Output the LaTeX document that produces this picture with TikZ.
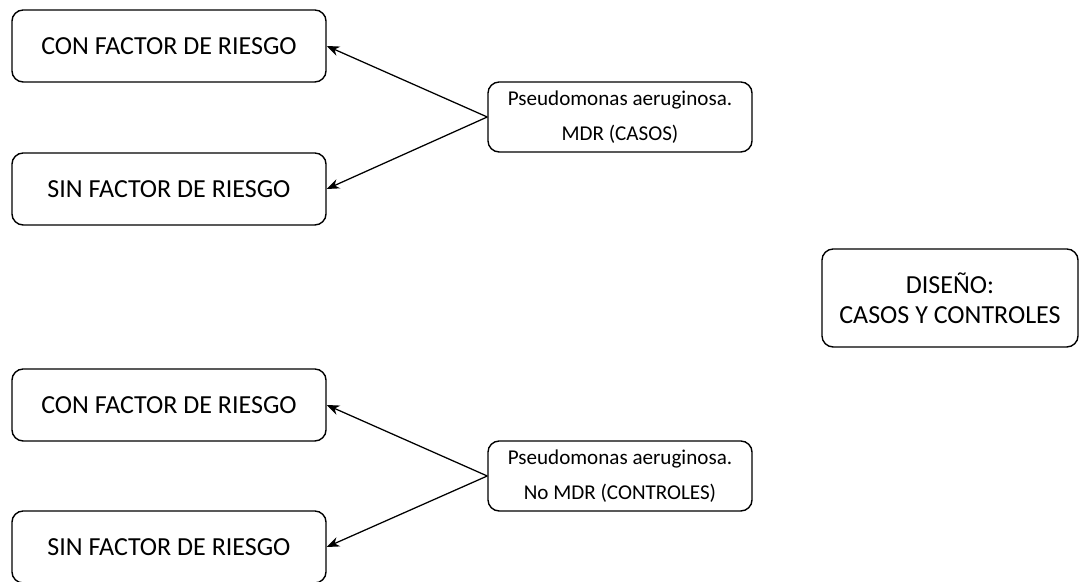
\documentclass[tikz,border=0pt]{standalone}
\usepackage{fontspec}
\setmainfont{Carlito}
\usetikzlibrary{arrows.meta,positioning}

\begin{document}
\begin{tikzpicture}[x=0.025cm, y=-0.025cm,
  every node/.style={font=\fontsize{18.5}{21}\selectfont},
  factor/.style={rectangle, rounded corners=8pt, draw=black, line width=1pt, minimum width=7.85cm, minimum height=1.8cm, align=center},
  grupo/.style={rectangle, rounded corners=8pt, draw=black, line width=1pt, minimum width=6.6cm, minimum height=1.75cm, align=center, font=\fontsize{15}{24.5}\selectfont},
  diseno/.style={rectangle, rounded corners=8pt, draw=black, line width=1pt, minimum width=6.4cm, minimum height=2.45cm, align=center},
  arrow/.style={-{Stealth[length=9pt, width=7pt]}, line width=0.9pt},
]
\useasboundingbox (0,0) rectangle (1081,582);

% Casos
\node[grupo] (casos) at (620,117) {Pseudomonas aeruginosa.\\MDR (CASOS)};
\node[factor] (conA) at (169,46) {CON FACTOR DE RIESGO};
\node[factor] (sinA) at (169,189) {SIN FACTOR DE RIESGO};

% Controles
\node[grupo] (controles) at (620,476) {Pseudomonas aeruginosa.\\No MDR (CONTROLES)};
\node[factor] (conB) at (169,405) {CON FACTOR DE RIESGO};
\node[factor] (sinB) at (169,547) {SIN FACTOR DE RIESGO};

% Diseno
\node[diseno] (dis) at (950,298) {DISEÑO:\\CASOS Y CONTROLES};

% Arrows
\draw[arrow] (casos.west) -- (conA.east);
\draw[arrow] (casos.west) -- (sinA.east);
\draw[arrow] (controles.west) -- (conB.east);
\draw[arrow] (controles.west) -- (sinB.east);

\end{tikzpicture}
\end{document}
